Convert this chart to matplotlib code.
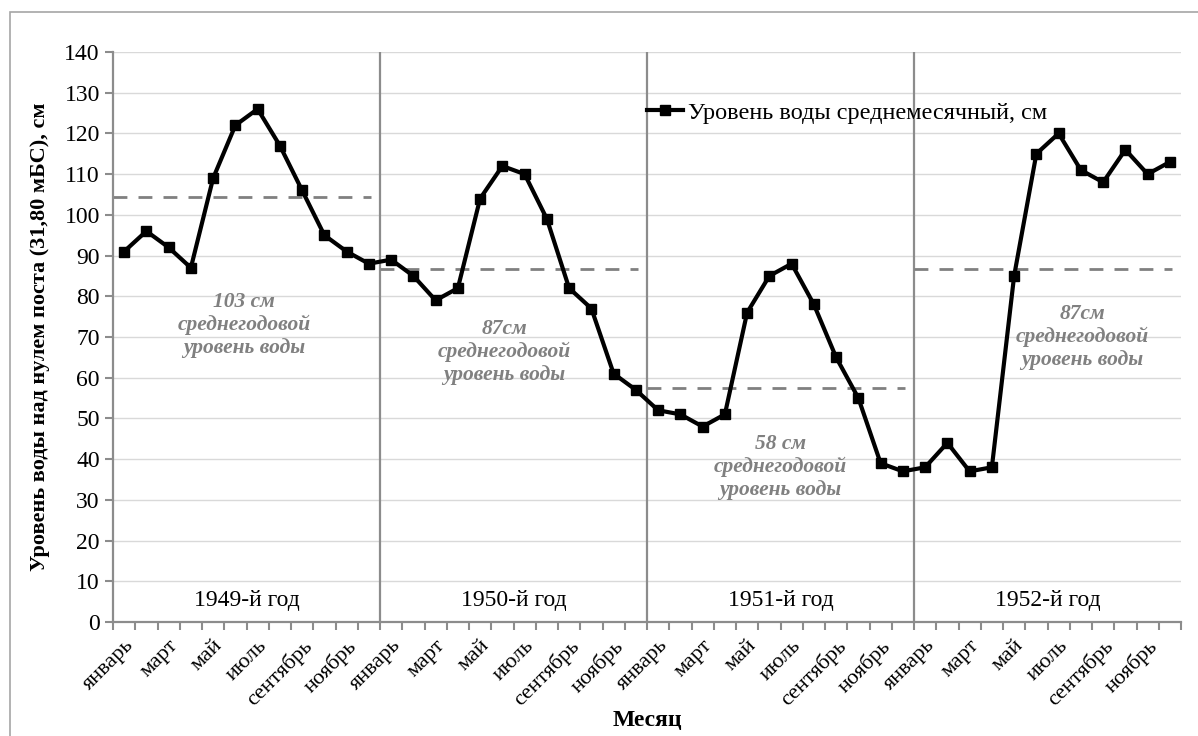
import matplotlib.pyplot as plt
from matplotlib.patches import Rectangle

plt.rcParams['font.family'] = ['Liberation Serif', 'DejaVu Serif']

# Среднемесячный уровень воды, см (1949-1952)
months = ["январь", "февраль", "март", "апрель", "май", "июнь",
          "июль", "август", "сентябрь", "октябрь", "ноябрь", "декабрь"]
years = ["1949-й год", "1950-й год", "1951-й год", "1952-й год"]
level_1949 = [91, 96, 92, 87, 109, 122, 126, 117, 106, 95, 91, 88]
level_1950 = [89, 85, 79, 82, 104, 112, 110, 99, 82, 77, 61, 57]
level_1951 = [52, 51, 48, 51, 76, 85, 88, 78, 65, 55, 39, 37]
level_1952 = [38, 44, 37, 38, 85, 115, 120, 111, 108, 116, 110, 113]
mean_levels = [104.5, 86.7, 57.5, 86.7]
mean_labels = ["103 см", "87см", "58 см", "87см"]

niveles = level_1949 + level_1950 + level_1951 + level_1952
etiquetas = months * 4
x = list(range(len(niveles)))

fig = plt.figure(figsize=(11.98, 7.36), dpi=100)
ax = fig.add_axes([113 / 1198, 1 - 622 / 736, 1068 / 1198, 570 / 736])

# рамка области диаграммы
fig.patches.append(Rectangle((10 / 1198, -0.01), 1.0, 1 - 12 / 736 + 0.01,
                             transform=fig.transFigure, fill=False,
                             edgecolor='#a6a6a6', linewidth=1.2))

ax.set_xlim(-0.5, 47.5)
ax.set_ylim(0, 140)
ax.set_yticks(range(0, 141, 10))
ax.grid(axis='y', color='#d9d9d9', linewidth=1)
ax.set_axisbelow(True)

# разделители годов
for k in range(1, 4):
    ax.axvline(12 * k - 0.5, color='#8c8c8c', linewidth=1.6, zorder=1)

# среднегодовые уровни
for k in range(4):
    x0 = 12 * k - 0.5
    ax.plot([x0, x0 + 11.6], [mean_levels[k], mean_levels[k]], linestyle=(0, (5, 4)),
            color='#808080', linewidth=2, zorder=2)

ax.plot(x, niveles, color='black', linewidth=3, marker='s', markersize=7,
        label='Уровень воды среднемесячный, см', zorder=3)

# подписи годов
for k in range(4):
    ax.text(12 * k + 5.5, 5.4, years[k], ha='center', va='center', fontsize=17)

ann_pos = [(5.4, 73), (17.1, 66.3), (29.5, 38), (43.05, 70)]
for k in range(4):
    ax.text(ann_pos[k][0], ann_pos[k][1],
            mean_labels[k] + '\nсреднегодовой\nуровень воды',
            ha='center', va='center', fontsize=15.5, style='italic',
            fontweight='bold', color='#808080', linespacing=1.2)

ax.set_xticks([i - 0.5 for i in range(49)], minor=True)
ax.set_xticks(x[::2])
ax.set_xticklabels(etiquetas[::2], rotation=45, ha='right',
                   rotation_mode='anchor', fontsize=16)
ax.tick_params(axis='x', which='major', length=0, pad=10)
ax.tick_params(axis='x', which='minor', length=6, width=1.5, color='#8c8c8c',
               direction='out')
ax.tick_params(axis='y', length=6, width=1.5, color='#8c8c8c', labelsize=17)

for side in ['top', 'right']:
    ax.spines[side].set_visible(False)
for side in ['left', 'bottom']:
    ax.spines[side].set_color('#8c8c8c')
    ax.spines[side].set_linewidth(1.6)

ax.set_xlabel('Месяц', fontsize=17, fontweight='bold', labelpad=0)
ax.set_ylabel('Уровень воды над нулем поста (31,80 мБС), см', fontsize=16,
              fontweight='bold', labelpad=10)

ax.legend(loc='center left', bbox_to_anchor=(0.5, 0.893), frameon=False,
          fontsize=17.5, handlelength=1.5, handletextpad=0.2, borderpad=0,
          borderaxespad=0)

fig.savefig('out.png', dpi=100)
